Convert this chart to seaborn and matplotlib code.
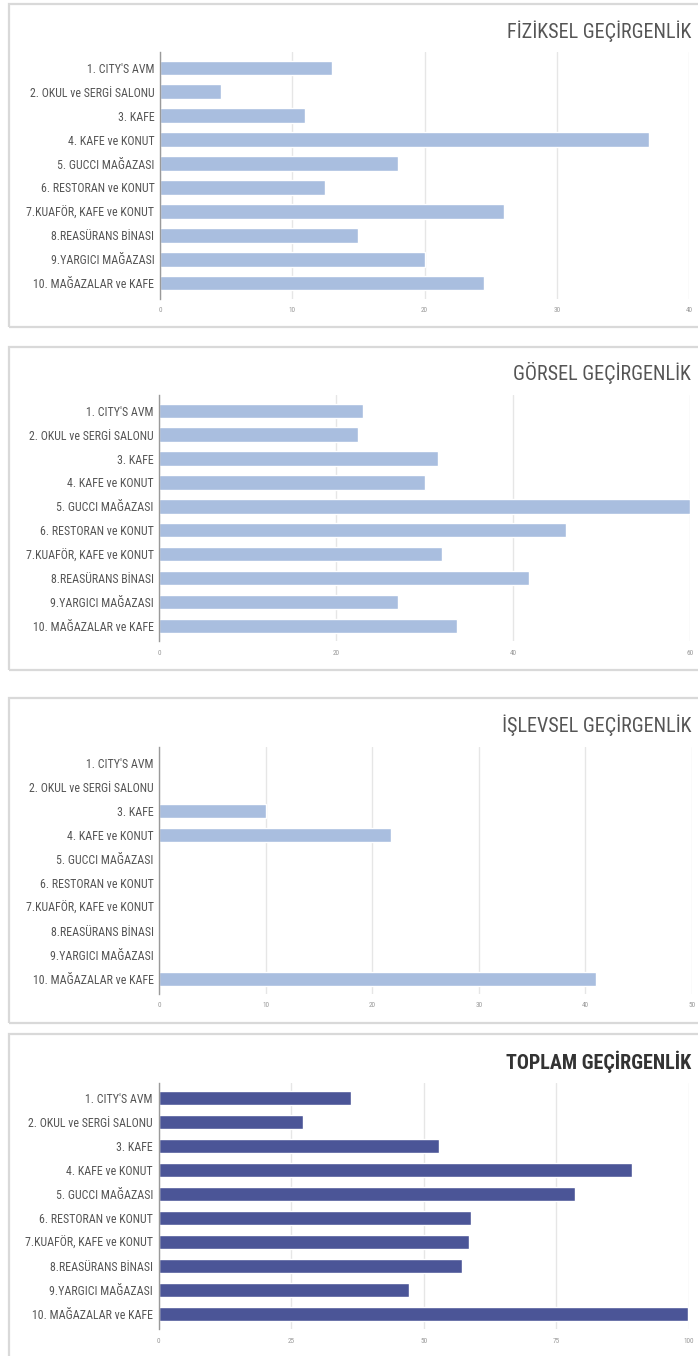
import matplotlib
matplotlib.use("Agg")
import os
import matplotlib.pyplot as plt
import seaborn as sns
import pandas as pd
from matplotlib.patches import Rectangle
from matplotlib import font_manager as fm

categories = [
    "1. CITY'S AVM",
    "2. OKUL ve SERGİ SALONU",
    "3. KAFE",
    "4. KAFE ve KONUT",
    "5. GUCCI MAĞAZASI",
    "6. RESTORAN ve KONUT",
    "7.KUAFÖR, KAFE ve KONUT",
    "8.REASÜRANS BİNASI",
    "9.YARGICI MAĞAZASI",
    "10. MAĞAZALAR ve KAFE",
]
fiziksel = [13, 4.6, 11, 37, 18, 12.5, 26, 15, 20, 24.5]
gorsel = [23, 22.5, 31.5, 30, 60, 46, 32, 41.8, 27, 33.7]
islevsel = [0, 0, 10, 21.7, 0, 0, 0, 0, 0, 41]
toplam = [36.2, 27.3, 52.8, 89.3, 78.5, 59, 58.5, 57.2, 47.3, 99.8]

titles = ["FİZİKSEL GEÇİRGENLİK", "GÖRSEL GEÇİRGENLİK", "İŞLEVSEL GEÇİRGENLİK", "TOPLAM GEÇİRGENLİK"]
xticks = [[0, 10, 20, 30, 40], [0, 20, 40, 60], [0, 10, 20, 30, 40, 50], [0, 25, 50, 75, 100]]
series = [fiziksel, gorsel, islevsel, toplam]

sns.set_style("white")
plt.rcParams["font.family"] = ["DejaVu Sans"]

# find a condensed font file for the labels
def pick_font(keys, bold=False):
    files = [f.fname for f in fm.fontManager.ttflist]
    for k in keys:
        for fn in files:
            b = os.path.basename(fn).lower()
            if k in b and (("bold" in b) == bold) and "italic" not in b and "oblique" not in b:
                return fn
    return None

cond_reg = pick_font(["robotocondensed", "liberationsansnarrow", "dejavusanscondensed"], bold=False)
cond_bold = pick_font(["robotocondensed", "liberationsansnarrow", "dejavusanscondensed"], bold=True)

def fp(path, size, fallback_weight="normal"):
    if path:
        return fm.FontProperties(fname=path, size=size)
    return fm.FontProperties(family=["DejaVu Sans"], size=size, weight=fallback_weight, stretch="condensed")

W, H = 698, 1356
fig = plt.figure(figsize=(W / 100, H / 100), dpi=100)

# layout in pixels: box_top, box_bottom, ax_left, ax_right, bar1_center, bar10_center, title_y
layout = [
    (4, 327, 160, 689, 67.7, 283.3, 31),
    (347, 670, 159.4, 690, 410.7, 626, 373),
    (698, 1023, 159.4, 692, 762.7, 978.7, 725),
    (1034, 1362, 158.5, 689, 1098, 1314, 1062),
]
colors = ["#a9bedf", "#a9bedf", "#a9bedf", "#4b5597"]
m = 0.14

for i, (bt, bb, al, ar, b1, b10, ty) in enumerate(layout):
    fig.patches.append(Rectangle((9 / W, 1 - bb / H), 1.02 - 9 / W, (bb - bt) / H,
                                 transform=fig.transFigure, fill=False,
                                 edgecolor="#d9d9d9", lw=1.6, zorder=0))
    s = (b10 - b1) / 9
    top = b1 - (0.5 + m) * s
    bot = b10 + (0.5 + m) * s
    ax = fig.add_axes([al / W, 1 - bot / H, (ar - al) / W, (bot - top) / H])
    df = pd.DataFrame({"cat": categories, "val": series[i]})
    sns.barplot(data=df, x="val", y="cat", orient="h", color=colors[i],
                saturation=1, width=0.6, ax=ax)
    ax.set_xlim(0, xticks[i][-1])
    ax.set_ylim(9.5 + m, -0.5 - m)
    ax.set_xticks(xticks[i])
    ax.set_xticklabels([str(t) for t in xticks[i]])
    ax.set_xlabel("")
    ax.set_ylabel("")
    ax.xaxis.grid(True, color="#e6e6e6", lw=1)
    ax.set_axisbelow(True)
    for sp in ["top", "right", "bottom"]:
        ax.spines[sp].set_visible(False)
    ax.spines["left"].set_color("#9a9a9a")
    ax.spines["left"].set_linewidth(1.0)
    ax.tick_params(axis="x", length=0, pad=6, labelcolor="#9a9a9a")
    ax.tick_params(axis="y", length=0, pad=4, labelcolor="#555555")
    for lab in ax.get_yticklabels():
        lab.set_fontproperties(fp(cond_reg, 8.6))
    for lab in ax.get_xticklabels():
        lab.set_fontproperties(fp(cond_reg, 5.2))
    if i == 3:
        fig.text(691 / W, 1 - ty / H, titles[i], ha="right", va="center",
                 color="#333333", fontproperties=fp(cond_bold, 14.5, "bold"))
    else:
        fig.text(691 / W, 1 - ty / H, titles[i], ha="right", va="center",
                 color="#555555", fontproperties=fp(cond_reg, 14.5))

fig.savefig("out.png", dpi=100, facecolor="white")
